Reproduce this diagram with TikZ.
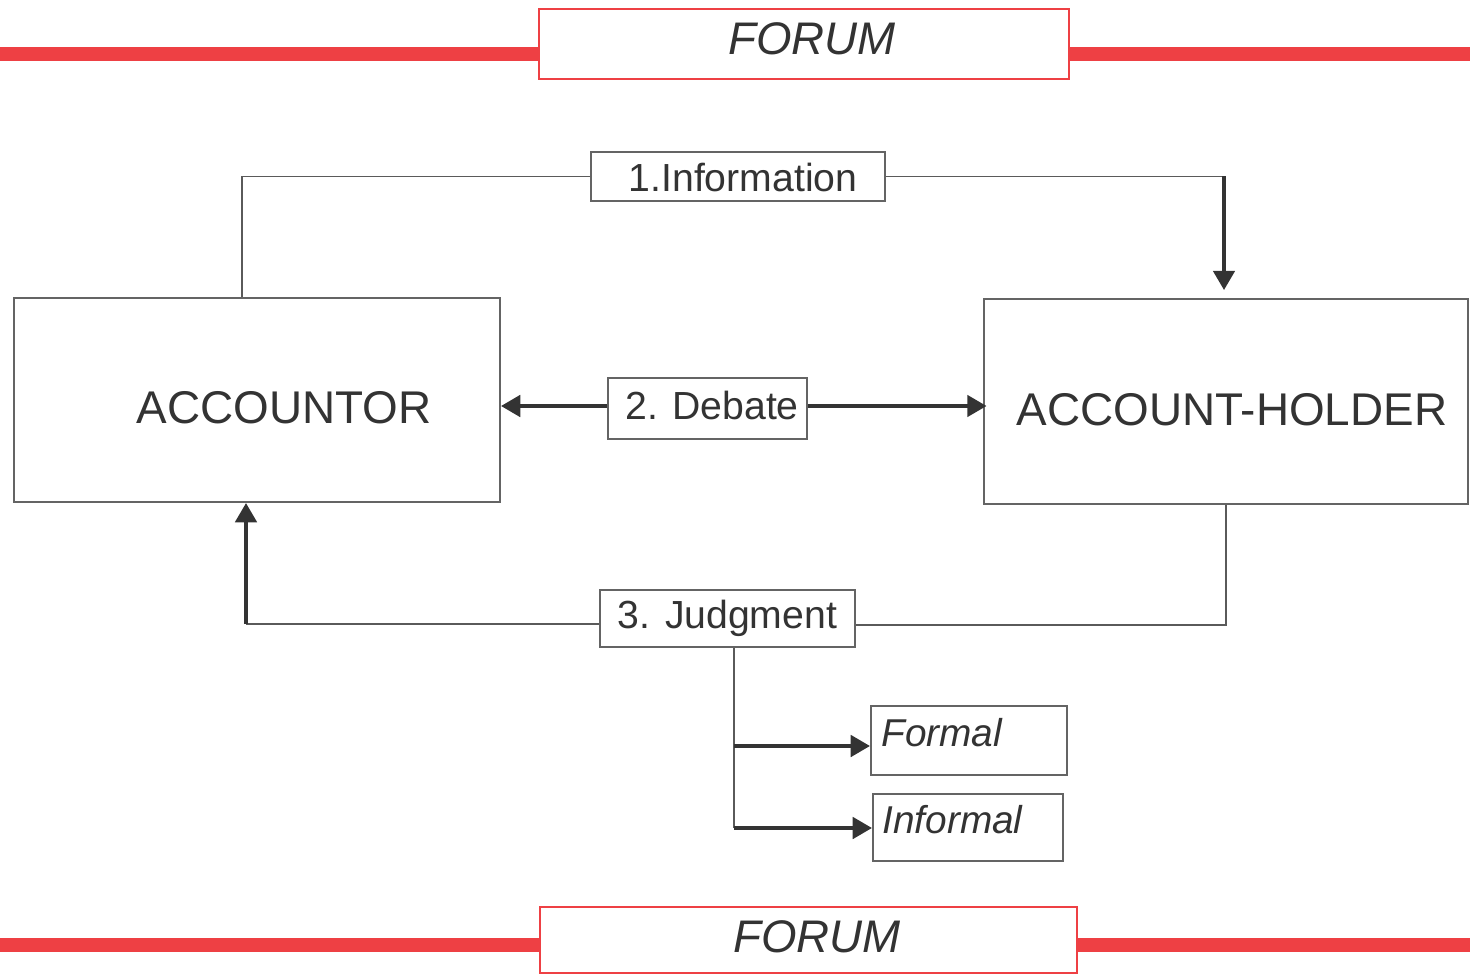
\documentclass[tikz,border=0pt]{standalone}
\usepackage{fontspec}
\setmainfont{Liberation Sans}
\usetikzlibrary{arrows.meta}
\definecolor{forumred}{RGB}{238,64,68}
\definecolor{linegray}{RGB}{90,90,90}
\definecolor{boxgray}{RGB}{100,100,100}
\definecolor{dark}{RGB}{51,51,51}
\begin{document}
\begin{tikzpicture}[x=0.02cm,y=-0.02cm,
  redbar/.style={draw=forumred,line width=7.9pt},
  forumbox/.style={draw=forumred,line width=1.1pt,fill=white,inner sep=0pt},
  forumtext/.style={font=\fontsize{26}{30}\selectfont\itshape,text=dark,inner sep=0pt},
  box/.style={draw=boxgray,line width=1.1pt,fill=white,inner sep=0pt},
  bigtext/.style={font=\fontsize{26.1}{30}\selectfont,text=dark,inner sep=0pt},
  smalltext/.style={font=\fontsize{22.3}{26}\selectfont,text=dark,inner sep=0pt},
  thinline/.style={draw=linegray,line width=0.9pt},
  medline/.style={draw=linegray,line width=1.4pt},
  thickarrow/.style={draw=dark,line width=2.5pt,-{Triangle[length=11pt,width=12pt]}},
]
\useasboundingbox (0,0) rectangle (1470,976);

% forum bars
\coordinate (rl1) at (0,54);
\coordinate (rr1) at (1470,54);
\coordinate (rl2) at (0,945);
\coordinate (rr2) at (1470,945);
\draw[redbar] (rl1) -- (rr1);
\draw[redbar] (rl2) -- (rr2);
\node[forumbox,minimum width=10.6cm,minimum height=1.4cm] (forumT) at (804,44) {};
\node[forumtext] (forumTtext) at (812,39) {FORUM};
\node[forumbox,minimum width=10.74cm,minimum height=1.32cm] (forumB) at (808.5,940) {};
\node[forumtext] (forumBtext) at (817,937) {FORUM};

% main boxes
\node[box,minimum width=9.72cm,minimum height=4.08cm] (acc) at (257,400) {};
\node[bigtext] (acctext) at (284,408) {ACCOUNTOR};
\node[box,minimum width=9.68cm,minimum height=4.1cm] (hold) at (1226,401.5) {};
\node[bigtext] (holdtext) at (1232,410) {ACCOUNT-HOLDER};

% label boxes
\node[box,minimum width=5.88cm,minimum height=0.98cm] (info) at (738,176.5) {};
\node[smalltext] (infotext) at (743,177) {1.Information};
\node[box,minimum width=3.98cm,minimum height=1.22cm] (debate) at (707.5,408.5) {};
\node[smalltext] (debatetext) at (712,405) {2. Debate};
\node[box,smalltext,minimum width=5.1cm,minimum height=1.14cm] (judg) at (727.5,618.5) {3. Judgment};

\node[box,minimum width=3.92cm,minimum height=1.38cm] (formal) at (969,740.5) {};
\node[smalltext,anchor=west,font=\fontsize{22.1}{26}\selectfont\itshape] (formaltext) at (881,733) {Formal};
\node[box,minimum width=3.8cm,minimum height=1.34cm] (informal) at (968,827.5) {};
\node[smalltext,anchor=west,font=\fontsize{22.1}{26}\selectfont\itshape] (informaltext) at (882,820) {Informal};

% 1. information
\coordinate (a1) at (242,177);
\coordinate (h1) at (1224,177);
\draw[thinline] (acc.north -| a1) |- (info.west);
\draw[thinline] (info.east) -- (info.east -| h1);
\draw[thickarrow,shorten >=4.5pt] (info.east -| h1) -- (hold.north -| h1);

% 2. debate
\coordinate (d1) at (700,406);
\draw[thickarrow] (debate.west |- d1) -- (acc.east |- d1);
\draw[thickarrow] (debate.east |- d1) -- ([xshift=2pt]hold.west |- d1);

% 3. judgment
\coordinate (j1) at (1226,625);
\coordinate (j2) at (246,624);
\draw[medline] (hold.south) -- (j1) -- (j1 -| judg.east);
\draw[medline] (judg.west |- j2) -- (j2);
\draw[thickarrow] (j2) -- (acc.south -| j2);

% branches
\coordinate (b1) at (734,746);
\coordinate (b0) at (734,828);
\draw[medline] (judg.south -| b0) -- (b0);
\draw[thickarrow] (b1) -- (b1 -| formal.west);
\draw[thickarrow] (b0) -- (b0 -| informal.west);
\end{tikzpicture}
\end{document}
